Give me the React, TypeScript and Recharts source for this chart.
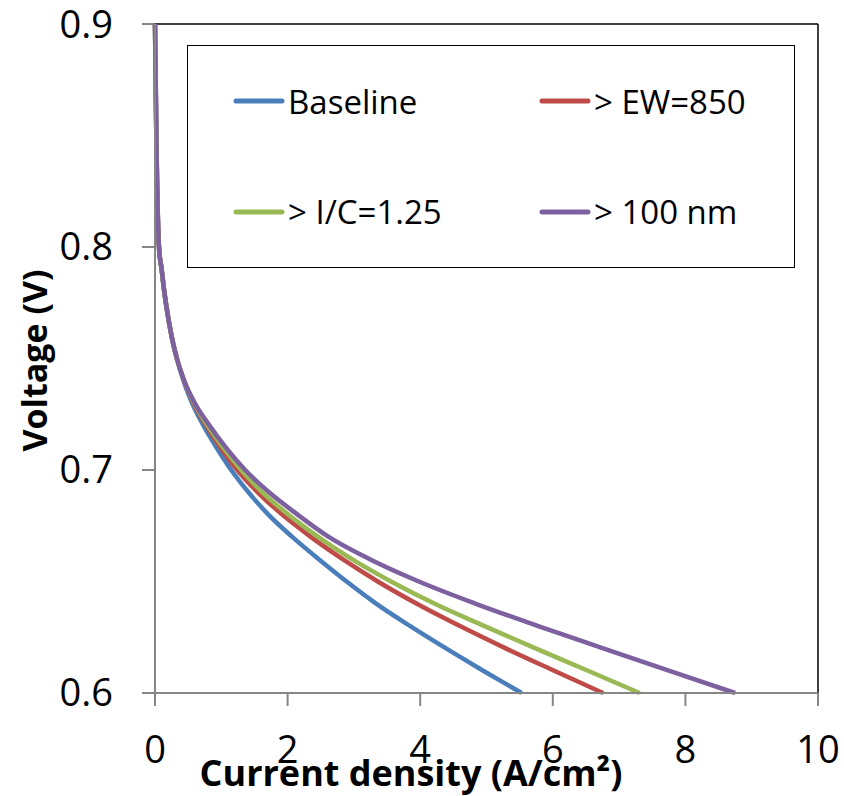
import React from "react";
import { LineChart, Line, XAxis, YAxis, Legend, ReferenceLine, Label } from "recharts";

// polarization curves: current density (A/cm2) read at each voltage step
const voltage = [
  0.9, 0.85, 0.8, 0.79, 0.78, 0.77, 0.76, 0.75, 0.74, 0.73, 0.72, 0.71, 0.7,
  0.69, 0.68, 0.67, 0.66, 0.65, 0.64, 0.63, 0.62, 0.61, 0.6,
];
const baseline = [
  0, 0.02, 0.06, 0.1, 0.14, 0.19, 0.25, 0.33, 0.43, 0.56, 0.73, 0.93, 1.15,
  1.41, 1.71, 2.07, 2.47, 2.89, 3.34, 3.85, 4.39, 4.95, 5.53,
];
const ew850 = [
  0, 0.02, 0.06, 0.1, 0.14, 0.19, 0.25, 0.33, 0.44, 0.58, 0.77, 0.99, 1.24,
  1.55, 1.92, 2.35, 2.83, 3.36, 3.95, 4.6, 5.29, 6.02, 6.76,
];
const ic125 = [
  0, 0.02, 0.06, 0.1, 0.14, 0.19, 0.25, 0.33, 0.44, 0.59, 0.79, 1.03, 1.3,
  1.62, 2.01, 2.46, 2.97, 3.56, 4.22, 4.97, 5.74, 6.53, 7.31,
];
const nm100 = [
  0, 0.02, 0.06, 0.1, 0.14, 0.19, 0.25, 0.33, 0.44, 0.6, 0.82, 1.07, 1.36,
  1.72, 2.15, 2.62, 3.24, 3.98, 4.84, 5.78, 6.76, 7.75, 8.75,
];

const xTicks = [0, 2, 4, 6, 8, 10];
const yTicks = [0.6, 0.7, 0.8, 0.9];

const series = [
  { name: "Baseline", values: baseline, color: "#4A7EBB" },
  { name: "> EW=850", values: ew850, color: "#BE4B48" },
  { name: "> I/C=1.25", values: ic125, color: "#98B954" },
  { name: "> 100 nm", values: nm100, color: "#7D60A0" },
];

const toPoints = (values: number[]) => values.map((j, i) => ({ j, v: voltage[i] }));

const FONT = "'Open Sans', sans-serif";
const AXIS = "#868686";

function LegendBox() {
  return (
    <div
      style={{
        width: 608,
        height: 223,
        border: "1.5px solid #000",
        display: "grid",
        gridTemplateColumns: "306px 256px",
        gridTemplateRows: "1fr 1fr",
        paddingLeft: 45,
        boxSizing: "border-box",
        fontFamily: FONT,
        fontSize: 33,
        color: "#000",
        background: "#fff",
      }}
    >
      {series.map((s) => (
        <div key={s.name} style={{ display: "flex", alignItems: "center" }}>
          <svg width={52} height={8} style={{ marginRight: 3 }}>
            <line x1={3} y1={4} x2={49} y2={4} stroke={s.color} strokeWidth={5} strokeLinecap="round" />
          </svg>
          <span style={{ lineHeight: 1 }}>{s.name}</span>
        </div>
      ))}
    </div>
  );
}

export default function App() {
  return (
    <div style={{ position: "absolute", left: 0, top: 0, width: 844, height: 796, background: "#fff" }}>
      <LineChart width={844} height={796} margin={{ top: 24, right: 26, bottom: 0, left: 0 }}>
        <XAxis
          dataKey="j"
          type="number"
          domain={[0, 10]}
          ticks={xTicks}
          height={103}
          stroke={AXIS}
          strokeWidth={2}
          tickSize={13}
          tickMargin={30}
          tick={{ fill: "#000", fontSize: 38, fontFamily: FONT }}
        >
          <Label
            content={({ viewBox }: any) => (
              <text
                x={viewBox.x + 256}
                y={viewBox.y + 93}
                textAnchor="middle"
                fontFamily={FONT}
                fontWeight="bold"
                fontSize={36}
                fill="#000"
              >
                Current density (A/cm²)
              </text>
            )}
          />
        </XAxis>
        <YAxis
          type="number"
          domain={[0.6, 0.9]}
          ticks={yTicks}
          width={155}
          stroke={AXIS}
          strokeWidth={2}
          tickSize={13}
          tickMargin={29}
          tickFormatter={(v: number) => v.toFixed(1)}
          tick={{ fill: "#000", fontSize: 38, fontFamily: FONT }}
        >
          <Label
            content={({ viewBox }: any) => {
              const cx = 34;
              const cy = viewBox.y + viewBox.height / 2 + 2;
              return (
                <text
                  x={cx}
                  y={cy}
                  transform={`rotate(-90, ${cx}, ${cy})`}
                  textAnchor="middle"
                  dominantBaseline="central"
                  fontFamily={FONT}
                  fontWeight="bold"
                  fontSize={34}
                  fill="#000"
                >
                  Voltage (V)
                </text>
              );
            }}
          />
        </YAxis>
        <ReferenceLine y={0.9} stroke="#000" strokeWidth={1.5} />
        <ReferenceLine x={10} stroke="#000" strokeWidth={1.5} />
        {series.map((s) => (
          <Line
            key={s.name}
            data={toPoints(s.values)}
            dataKey="v"
            name={s.name}
            type="monotone"
            stroke={s.color}
            strokeWidth={4.5}
            dot={false}
            activeDot={false}
            isAnimationActive={false}
          />
        ))}
        <Legend
          layout="horizontal"
          verticalAlign="middle"
          align="center"
          content={<LegendBox />}
          wrapperStyle={{ position: "absolute", left: 187, top: 45, width: 608, height: 223 }}
        />
      </LineChart>
    </div>
  );
}
